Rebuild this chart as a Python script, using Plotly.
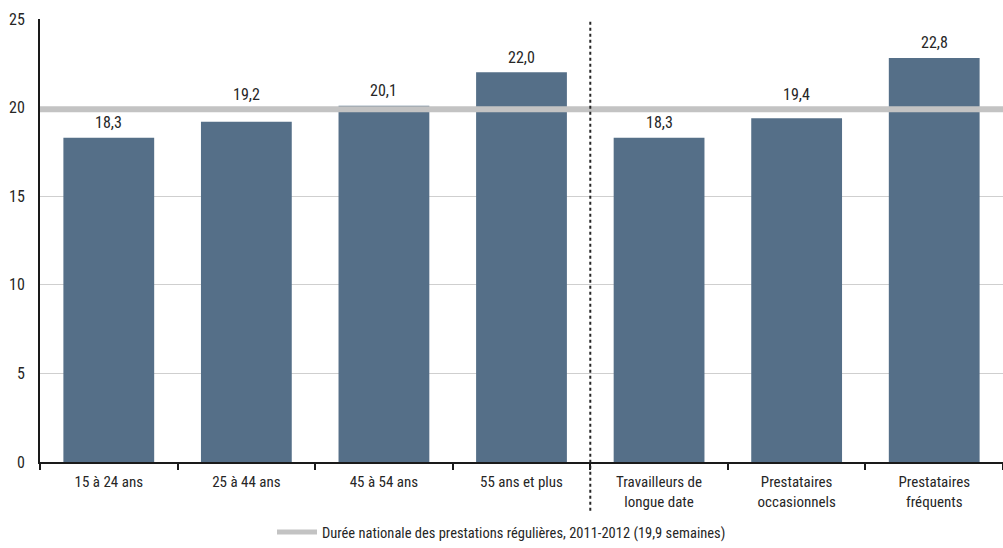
import plotly.graph_objects as go

categories = [
    "15 à 24 ans",
    "25 à 44 ans",
    "45 à 54 ans",
    "55 ans et plus",
    "Travailleurs de<br>longue date",
    "Prestataires<br>occasionnels",
    "Prestataires<br>fréquents",
]
durations = [18.3, 19.2, 20.1, 22.0, 18.3, 19.4, 22.8]
national_average = 19.9
national_label = "Durée nationale des prestations régulières, 2011-2012 (19,9 semaines)"
y_ticks = [0, 5, 10, 15, 20, 25]

FONT = "Roboto Condensed, Liberation Sans Narrow, sans-serif"
TEXT_COLOR = "#262626"
BAR_COLOR = "#556f88"
REF_COLOR = "#c3c3c3"

fig = go.Figure()

fig.add_trace(go.Bar(
    x=categories,
    y=durations,
    marker=dict(color=BAR_COLOR, line=dict(width=0)),
    width=0.66,
    showlegend=False,
    hoverinfo="skip",
))

# legend entry for the national reference line
fig.add_trace(go.Scatter(
    x=[None], y=[None],
    mode="lines",
    line=dict(color=REF_COLOR, width=5),
    name=national_label,
    showlegend=True,
))

# national average line across the whole plot
fig.add_shape(
    type="line", xref="paper", yref="y",
    x0=0, x1=1, y0=national_average, y1=national_average,
    line=dict(color=REF_COLOR, width=6),
    layer="above",
)

# dotted separator between age groups and claimant types
fig.add_shape(
    type="line", xref="x", yref="paper",
    x0=3.5, x1=3.5, y0=-0.11, y1=1,
    line=dict(color=TEXT_COLOR, width=2, dash="dot"),
    layer="above",
)

# value labels; a label that would sit on the reference line is lifted above it
LABEL_SHIFT = 15
for cat, val in zip(categories, durations):
    anchor = val
    if 0 < national_average - val < 1.0:
        anchor = national_average
    fig.add_annotation(
        x=cat, y=anchor, xref="x", yref="y",
        text=f"{val:.1f}".replace(".", ","),
        showarrow=False, yanchor="middle", yshift=LABEL_SHIFT,
        font=dict(size=16, family=FONT, color=TEXT_COLOR),
    )

fig.update_layout(
    width=1003, height=548,
    margin=dict(l=40, r=0, t=19, b=86),
    paper_bgcolor="white",
    plot_bgcolor="white",
    separators=", ",
    font=dict(family=FONT, size=15, color=TEXT_COLOR),
    bargap=0.34,
    legend=dict(
        orientation="h",
        xref="container", yref="container",
        x=0.5, xanchor="center",
        y=0.0, yanchor="bottom",
        font=dict(size=14.5, family=FONT, color=TEXT_COLOR),
        itemwidth=40,
        tracegroupgap=0,
    ),
    xaxis=dict(
        type="category",
        showgrid=False,
        showline=True, linecolor="#1a1a1a", linewidth=2,
        ticks="outside", tickson="boundaries", ticklen=6,
        tickcolor="#1a1a1a", tickwidth=1.5,
        ticklabelstandoff=5,
        tickfont=dict(size=15, family=FONT, color=TEXT_COLOR),
        range=[-0.5, 6.5],
        fixedrange=True,
    ),
    yaxis=dict(
        range=[0, 25],
        tickvals=y_ticks,
        showgrid=True, gridcolor="#cfcfcf", gridwidth=1,
        showline=True, linecolor="#1a1a1a", linewidth=2,
        zeroline=False,
        ticks="", ticklabelstandoff=10,
        tickfont=dict(size=16, family=FONT, color=TEXT_COLOR),
        fixedrange=True,
    ),
)

fig.write_html("out.html")
